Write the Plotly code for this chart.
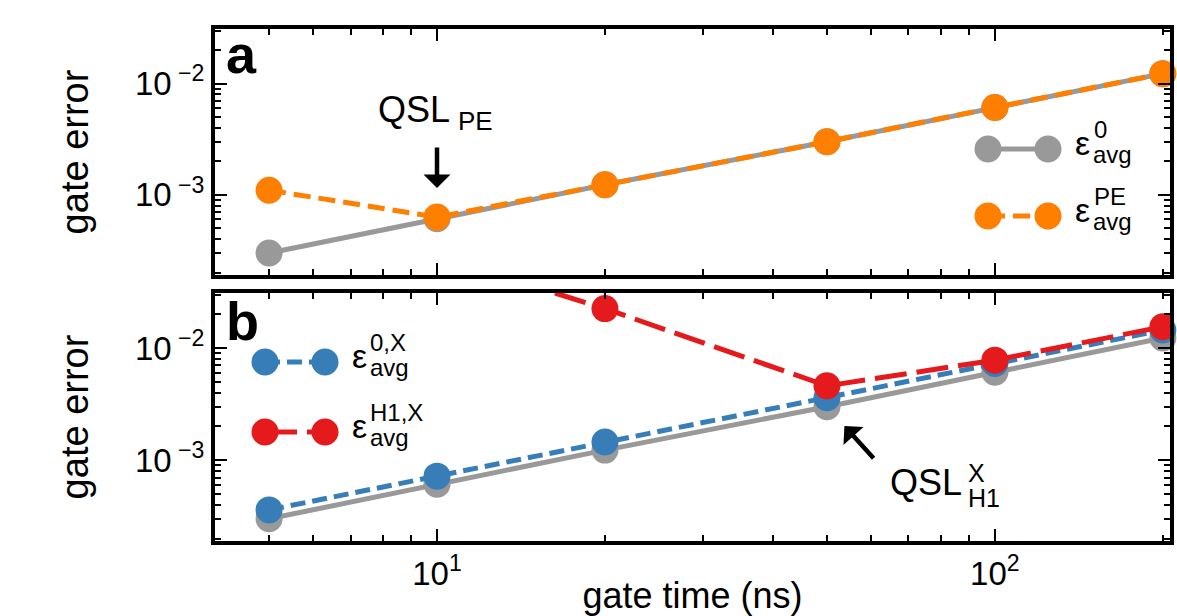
import numpy as np
import plotly.graph_objects as go

# ---------------- data ----------------
gate_time = [5, 10, 20, 50, 100, 200]                      # ns
err_0 = [3.0e-4, 6.1e-4, 1.23e-3, 3.0e-3, 6.1e-3, 1.23e-2]    # eps_avg^0
err_pe = [1.1e-3, 6.3e-4, 1.23e-3, 3.0e-3, 6.1e-3, 1.23e-2]   # eps_avg^PE
err_0x = [3.6e-4, 7.2e-4, 1.45e-3, 3.6e-3, 7.3e-3, 1.45e-2]   # eps_avg^{0,X}
err_h1x = [1.2e-1, 6.6e-2, 2.25e-2, 4.6e-3, 7.8e-3, 1.55e-2]  # eps_avg^{H1,X}

x_range = [4.0, 206.0]
y_range = [1.9e-4, 3.1e-2]
x_tickvals = [10, 100]
x_ticktext = ["10<sup>1</sup>", "10<sup>2</sup>"]
y_tickvals = [1e-3, 1e-2]
y_ticktext = ["10<sup>\u00a0−3</sup>", "10<sup>\u00a0−2</sup>"]
x_minor = [4, 5, 6, 7, 8, 9, 20, 30, 40, 50, 60, 70, 80, 90, 200]
y_minor = [2e-4, 3e-4, 4e-4, 5e-4, 6e-4, 7e-4, 8e-4, 9e-4,
           2e-3, 3e-3, 4e-3, 5e-3, 6e-3, 7e-3, 8e-3, 9e-3, 2e-2, 3e-2]

GRAY = "#999999"
ORANGE = "#ff7f00"
BLUE = "#377eb8"
RED = "#e41a1c"
FONT = "Liberation Sans, Arial, Helvetica, sans-serif"

W, H = 1177, 616
ML, MR, MT, MB = 215, 7, 29, 75
PLOT_H = H - MT - MB
TOP_PANEL = (29, 275)      # pixel top/bottom of panel a
BOT_PANEL = (293, 541)     # pixel top/bottom of panel b


def dom_y(panel, py):
    return (panel[1] - py) / (panel[1] - panel[0])


def dom_x(px):
    return (px - ML) / (W - ML - MR)


fig = go.Figure()

MS = 27
# panel a
fig.add_trace(go.Scatter(x=gate_time, y=err_0, mode="lines+markers",
                         line=dict(color=GRAY, width=5),
                         marker=dict(size=MS, color=GRAY),
                         cliponaxis=False, showlegend=False,
                         xaxis="x", yaxis="y"))
fig.add_trace(go.Scatter(x=gate_time, y=err_pe, mode="lines+markers",
                         line=dict(color=ORANGE, width=5, dash="17px,8px"),
                         marker=dict(size=MS, color=ORANGE),
                         cliponaxis=False, showlegend=False,
                         xaxis="x", yaxis="y"))
# panel b
fig.add_trace(go.Scatter(x=gate_time, y=err_0, mode="lines+markers",
                         line=dict(color=GRAY, width=5),
                         marker=dict(size=MS, color=GRAY),
                         cliponaxis=False, showlegend=False,
                         xaxis="x2", yaxis="y2"))
fig.add_trace(go.Scatter(x=gate_time, y=err_0x, mode="lines+markers",
                         line=dict(color=BLUE, width=5, dash="15px,7px"),
                         marker=dict(size=MS, color=BLUE),
                         cliponaxis=False, showlegend=False,
                         xaxis="x2", yaxis="y2"))
fig.add_trace(go.Scatter(x=gate_time, y=err_h1x, mode="lines+markers",
                         line=dict(color=RED, width=5, dash="32px,10px"),
                         marker=dict(size=MS, color=RED),
                         cliponaxis=True, showlegend=False,
                         xaxis="x2", yaxis="y2"))

axis_common = dict(
    type="log", showline=True, linewidth=4, linecolor="black",
    mirror="allticks", ticks="inside", ticklen=12, tickwidth=2,
    tickcolor="black", showgrid=False, zeroline=False,
    tickfont=dict(family=FONT, size=33, color="black"),
)
minor_common = dict(ticks="inside", ticklen=6, tickwidth=1.5,
                    tickcolor="black", showgrid=False)
xr = [np.log10(x_range[0]), np.log10(x_range[1])]
yr = [np.log10(y_range[0]), np.log10(y_range[1])]

top_dom = [1 - (TOP_PANEL[1] - MT) / PLOT_H, 1 - (TOP_PANEL[0] - MT) / PLOT_H]
bot_dom = [1 - (BOT_PANEL[1] - MT) / PLOT_H, 1 - (BOT_PANEL[0] - MT) / PLOT_H]

xa = dict(axis_common, range=xr, tickmode="array", tickvals=x_tickvals,
          ticktext=x_ticktext, minor=dict(minor_common, tickvals=x_minor))
ya = dict(axis_common, range=yr, tickmode="array", tickvals=y_tickvals,
          ticktext=y_ticktext, minor=dict(minor_common, tickvals=y_minor),
          title=dict(text="gate error", font=dict(size=38, family=FONT),
                     standoff=36))

fig.update_layout(
    width=W, height=H,
    margin=dict(l=ML, r=MR, t=MT, b=MB, autoexpand=False),
    paper_bgcolor="white", plot_bgcolor="white",
    font=dict(family=FONT, color="black"),
    xaxis=dict(xa, anchor="y", domain=[0, 1], showticklabels=False),
    yaxis=dict(ya, anchor="x", domain=top_dom),
    xaxis2=dict(xa, anchor="y2", domain=[0, 1], matches="x",
                title=dict(text="gate time (ns)",
                           font=dict(size=36, family=FONT), standoff=2)),
    yaxis2=dict(ya, anchor="x2", domain=bot_dom),
)

# ---------------- custom legends (marker - line - marker) ----------------
shapes = []
annots = []


def legend_entry(panel, xref, yref, px0, px1, py, color, dash, sup, sup_px,
                 sub_px):
    yd = dom_y(panel, py)
    shapes.append(dict(type="line", xref=xref, yref=yref,
                       x0=dom_x(px0), x1=dom_x(px1), y0=yd, y1=yd,
                       line=dict(color=color, width=5, dash=dash)))
    for px in (px0, px1):
        shapes.append(dict(type="circle", xref=xref, yref=yref,
                           xsizemode="pixel", ysizemode="pixel",
                           xanchor=dom_x(px), yanchor=yd,
                           x0=-MS / 2, x1=MS / 2, y0=-MS / 2, y1=MS / 2,
                           fillcolor=color, line=dict(width=0)))
    eps_x = px1 + 25
    annots.append(dict(text="ε", xref=xref, yref=yref, x=dom_x(eps_x),
                       y=dom_y(panel, py + 6 - 0.3465 * 34), xanchor="left",
                       yanchor="middle", showarrow=False,
                       font=dict(size=34, family=FONT)))
    annots.append(dict(text=sup, xref=xref, yref=yref, x=dom_x(sup_px),
                       y=dom_y(panel, py - 11 - 0.3465 * 24), xanchor="left",
                       yanchor="middle", showarrow=False,
                       font=dict(size=24, family=FONT)))
    annots.append(dict(text="avg", xref=xref, yref=yref, x=dom_x(sub_px),
                       y=dom_y(panel, py + 14 - 0.3465 * 24), xanchor="left",
                       yanchor="middle", showarrow=False,
                       font=dict(size=24, family=FONT)))


legend_entry(TOP_PANEL, "x domain", "y domain", 988, 1048, 149, GRAY, "solid",
             "0", 1092, 1091)
legend_entry(TOP_PANEL, "x domain", "y domain", 988, 1048, 216, ORANGE,
             "17px,8px", "PE", 1092, 1091)
legend_entry(BOT_PANEL, "x2 domain", "y2 domain", 265, 325, 362, BLUE,
             "15px,7px", "0,X", 368, 368)
legend_entry(BOT_PANEL, "x2 domain", "y2 domain", 265, 325, 432, RED,
             "32px,10px", "H1,X", 368, 368)

# panel labels
annots.append(dict(text="<b>a</b>", xref="x domain", yref="y domain",
                   x=dom_x(224), y=dom_y(TOP_PANEL, 73 - 0.3465 * 54),
                   xanchor="left", yanchor="middle", showarrow=False,
                   font=dict(size=54, family=FONT)))
annots.append(dict(text="<b>b</b>", xref="x2 domain", yref="y2 domain",
                   x=dom_x(224), y=dom_y(BOT_PANEL, 340 - 0.3465 * 54),
                   xanchor="left", yanchor="middle", showarrow=False,
                   font=dict(size=54, family=FONT)))

# QSL_PE label and arrow
annots.append(dict(text="QSL", xref="x domain", yref="y domain",
                   x=dom_x(376), y=dom_y(TOP_PANEL, 122 - 0.3465 * 36),
                   xanchor="left", yanchor="middle", showarrow=False,
                   font=dict(size=36, family=FONT)))
annots.append(dict(text="PE", xref="x domain", yref="y domain",
                   x=dom_x(456), y=dom_y(TOP_PANEL, 130 - 0.3465 * 26),
                   xanchor="left", yanchor="middle", showarrow=False,
                   font=dict(size=26, family=FONT)))
annots.append(dict(text="", xref="x", yref="y",
                   x=np.log10(gate_time[1]), y=np.log10(err_pe[1]),
                   showarrow=True, ax=0, ay=-71, standoff=29,
                   arrowhead=1, arrowsize=1.0, arrowwidth=4.5,
                   arrowcolor="black"))

# QSL^X_H1 label and arrow
annots.append(dict(text="QSL", xref="x2 domain", yref="y2 domain",
                   x=dom_x(888), y=dom_y(BOT_PANEL, 495 - 0.3465 * 36),
                   xanchor="left", yanchor="middle", showarrow=False,
                   font=dict(size=36, family=FONT)))
annots.append(dict(text="X", xref="x2 domain", yref="y2 domain",
                   x=dom_x(966), y=dom_y(BOT_PANEL, 482 - 0.3465 * 25),
                   xanchor="left", yanchor="middle", showarrow=False,
                   font=dict(size=25, family=FONT)))
annots.append(dict(text="H1", xref="x2 domain", yref="y2 domain",
                   x=dom_x(966), y=dom_y(BOT_PANEL, 507 - 0.3465 * 25),
                   xanchor="left", yanchor="middle", showarrow=False,
                   font=dict(size=25, family=FONT)))
annots.append(dict(text="", xref="x2", yref="y2",
                   x=np.log10(gate_time[3]), y=np.log10(err_0[3]),
                   showarrow=True, ax=48, ay=53, standoff=26,
                   arrowhead=1, arrowsize=1.0, arrowwidth=4.5,
                   arrowcolor="black"))

fig.update_layout(shapes=shapes, annotations=annots)
fig.write_html("out.html",
               config={"displayModeBar": False},
               post_script="document.body.style.margin='0';"
                           "document.body.style.overflow='hidden';")
